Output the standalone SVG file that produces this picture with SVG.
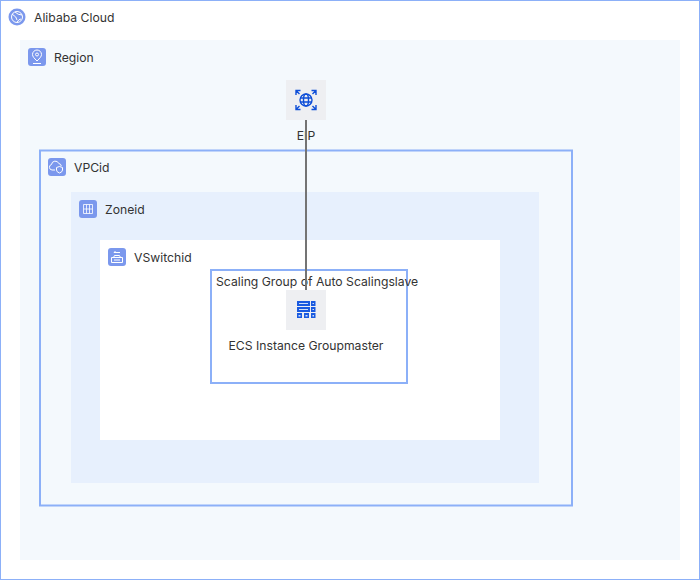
<svg xmlns="http://www.w3.org/2000/svg" width="700" height="580" viewBox="0 0 700 580">
<style>
text{font-family:Inter,"Liberation Sans",sans-serif;font-size:12.2px;fill:#333;}
.c{text-anchor:middle}
.badge{fill:#7b98ed}
.gl{fill:none;stroke:#fff;stroke-width:1}
.ic{fill:none;stroke:#0f4fd8;stroke-width:1.4}
.tile{fill:#eeeff2}
.blue{fill:#1a5ae0}
.lt{fill:#cfe0fb}
</style>
<rect width="700" height="580" fill="#fff"/>
<g id="alibaba-cloud">
<rect x="0.5" y="0.5" width="699" height="579" fill="#fff" stroke="#8cb0f8" stroke-width="1"/>
<circle cx="17" cy="17" r="8.500" class="badge"/>
<circle cx="17" cy="17" r="5.500" class="gl"/>
<path d="M12 14q5 3 5 6M15 12q3 3 7 3M17 22q2-3 4-3" class="gl"/>
<text x="34" y="22">Alibaba Cloud</text>
</g>
<g id="region">
<rect x="20" y="40" width="660" height="520" fill="#f4f9fd"/>
<rect x="28" y="48" width="18" height="18" rx="3" class="badge"/>
<path d="M37 61c-3-3-4.500-4.500-4.500-6.500a4.500 4.500 0 0 1 9 0c0 2-1.500 3.500-4.500 6.500z" class="gl"/>
<circle cx="37" cy="54.500" r="1.500" class="gl"/>
<path d="M33 63.500h8" class="gl"/>
<text x="54" y="62">Region</text>
</g>
<g id="vpc">
<rect x="40" y="150.500" width="532" height="355" fill="#f4f9fd" stroke="#8cb0f8" stroke-width="2"/>
<rect x="48" y="158" width="18" height="18" rx="3" class="badge"/>
<path d="M55 170h-3a2.800 2.800 0 0 1-.5-5.500 3.800 3.800 0 0 1 7.300-1 3 3 0 0 1 2.500 2.500" class="gl"/>
<path d="M59.500 166.500l3 1v2.500q0 2-3 3q-3-1-3-3v-2.500z" class="gl"/>
<text x="74" y="172">VPCid</text>
</g>
<g id="zone">
<rect x="71" y="192" width="468" height="291" fill="#e7f0fd"/>
<rect x="79" y="200" width="18" height="18" rx="3" class="badge"/>
<path d="M83.500 204.500h9v9h-9zM86.500 204.500v9M89.500 204.500v9M83.500 209h9" class="gl" stroke-opacity=".8"/>
<text x="105" y="214">Zoneid</text>
</g>
<g id="vswitch">
<rect x="100" y="240" width="400" height="200" fill="#fff"/>
<rect x="108" y="248" width="18" height="18" rx="3" class="badge"/>
<path d="M111.500 257.500h11v5h-11zM114 260h6M113.500 257.500l1-2h5l1 2M114 252.500h6M114 252.500l1.500-1.500" class="gl"/>
<text x="134" y="262">VSwitchid</text>
</g>
<g id="scaling-group">
<rect x="211" y="270" width="196" height="113" fill="#fff" stroke="#8cb0f8" stroke-width="2"/>
<text x="216" y="286">Scaling Group of Auto Scalingslave</text>
</g>
<g id="eip">
<rect x="286" y="80" width="40" height="40" class="tile"/>
<circle cx="306" cy="100" r="6" class="ic"/>
<ellipse cx="306" cy="100" rx="2.500" ry="6" class="ic"/>
<path d="M300 98h12M300 102h12M296 95v-4.500h4.500M316 95v-4.500h-4.500M296 105v4.500h4.500M316 105v4.500h-4.500M296.500 91l3 3M315.500 91l-3 3M296.500 109l3-3M315.500 109l-3-3" class="ic"/>
<text x="306" y="140" class="c">EIP</text>
</g>
<g id="connectors">
<path d="M306 120V290" fill="none" stroke="#747474" stroke-width="2"/>
</g>
<g id="ecs">
<rect x="286" y="290" width="40" height="40" class="tile"/>
<path d="M297 301h13v5h-13zM311 301h4.500v5h-4.500zM297 307h13v5h-13zM311 307h4.500v5h-4.500zM297 313h5v5h-5zM304 313h5v5h-5zM311 313h4.500v5h-4.500z" class="blue"/>
<path d="M299 303h9v1h-9zM299 309h9v1h-9zM312.500 303h1.500v1h-1.500zM312.500 309h1.500v1h-1.500zM298.500 315h2v1.500h-2zM305.500 315h2v1.500h-2zM312.500 315h1.500v1.500h-1.500z" class="lt"/>
<text x="306" y="350" class="c">ECS Instance Groupmaster</text>
</g>
</svg>
